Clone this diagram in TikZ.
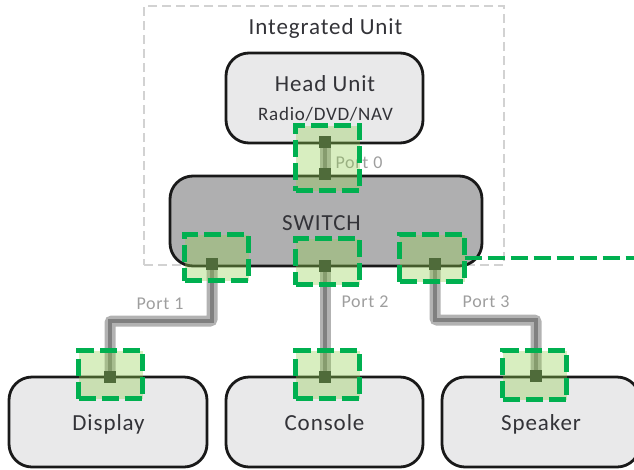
\documentclass[tikz,border=0pt]{standalone}
\usepackage{fontspec}
\setmainfont[LetterSpace=4]{Carlito}
\usetikzlibrary{calc}
\pgfdeclarelayer{boxes}
\pgfdeclarelayer{cables}
\pgfsetlayers{boxes,cables,main}
\definecolor{boxfill}{HTML}{E9E9EA}
\definecolor{switchfill}{HTML}{AFAFB0}
\definecolor{portgreen}{HTML}{00B050}
\definecolor{portfill}{HTML}{92D050}
\definecolor{chip}{HTML}{4F6B3A}
\definecolor{txt}{HTML}{333338}
\definecolor{gborder}{HTML}{D2D2D2}
\tikzset{
  unitbox/.style={draw=black!90,line width=2.8pt,rounded corners=23pt,fill=boxfill,text=txt,inner sep=0pt,outer sep=0pt,anchor=north west},
  group/.style={draw=gborder,line width=2.4pt,dash pattern=on 9pt off 5pt,inner sep=0pt,outer sep=0pt,anchor=north west},
  zone/.style={draw=portgreen,line width=4.8pt,dash pattern=on 17pt off 6pt,fill=portfill,fill opacity=.36,draw opacity=1,inner sep=0pt,outer sep=0pt,anchor=north west},
  chipsq/.style={fill=chip,minimum size=12pt,inner sep=0pt},
  cableout/.style={draw=black!30,line width=11pt,rounded corners=2pt},
  cablein/.style={draw=black!50,line width=3.6pt},
  portlabel/.style={text=black!38,font=\fontsize{18}{20}\selectfont,inner sep=0pt},
  uplink/.style={draw=portgreen,line width=4.6pt,dash pattern=on 17pt off 6pt},
}
\begin{document}
\begin{tikzpicture}[x=1pt,y=-1pt]
\useasboundingbox (0,0) rectangle (634,469);
\begin{pgfonlayer}{boxes}
\node[group,minimum width=360pt,minimum height=259pt] (integrated) at (144,6) {};
\node[unitbox,minimum width=197pt,minimum height=90pt] (head) at (226,53) {};
\node[unitbox,fill=switchfill,minimum width=312pt,minimum height=90pt] (switch) at (170,176) {};
\node[unitbox,minimum width=198pt,minimum height=90pt] (display) at (9,377) {};
\node[unitbox,minimum width=197pt,minimum height=90pt] (console) at (226,377) {};
\node[unitbox,minimum width=198pt,minimum height=90pt] (speaker) at (442,377) {};
\end{pgfonlayer}
% labels
\node[text=txt,font=\fontsize{23}{25}\selectfont,inner sep=0pt] (ltitle) at (325.5,28) {Integrated Unit};
\node[text=txt,font=\fontsize{23}{25}\selectfont,inner sep=0pt] (lhead) at (325,84) {Head Unit};
\node[text=txt,font=\fontsize{19}{21}\selectfont,inner sep=0pt] (lradio) at (325.5,114) {Radio/DVD/NAV};
\node[text=txt,font=\fontsize{23}{25}\selectfont,inner sep=0pt] (lswitch) at (321.5,223) {SWITCH};
\node[text=txt,font=\fontsize{23}{25}\selectfont,inner sep=0pt] (ldisplay) at (108.5,424) {Display};
\node[text=txt,font=\fontsize{23}{25}\selectfont,inner sep=0pt] (lconsole) at (324.5,423) {Console};
\node[text=txt,font=\fontsize{23}{25}\selectfont,inner sep=0pt] (lspeaker) at (541,424) {Speaker};
\node[portlabel] (p0) at (359,163) {Port 0};
\node[portlabel] (p1) at (160,304) {Port 1};
\node[portlabel] (p2) at (365,302) {Port 2};
\node[portlabel] (p3) at (486,302) {Port 3};
% green zones
\node[zone,minimum width=64pt,minimum height=65pt] (z0) at (295.5,125.5) {};
\node[zone,minimum width=64pt,minimum height=46pt] (z1) at (184.5,234.5) {};
\node[zone,minimum width=64pt,minimum height=46pt] (z2) at (295.5,238.5) {};
\node[zone,minimum width=65pt,minimum height=47pt] (z3) at (399.5,234.5) {};
\node[zone,minimum width=64pt,minimum height=48pt] (z4) at (78.5,350.5) {};
\node[zone,minimum width=64pt,minimum height=48pt] (z5) at (295.5,350.5) {};
\node[zone,minimum width=64pt,minimum height=49pt] (z6) at (502.5,350.5) {};
% chips
\node[chipsq] (c0a) at (325,142) {};
\node[chipsq] (c0b) at (325,174) {};
\node[chipsq] (c1) at (212,264) {};
\node[chipsq] (c2) at (325,266) {};
\node[chipsq] (c3) at (435,264) {};
\node[chipsq] (c4) at (110,377) {};
\node[chipsq] (c5) at (325,377) {};
\node[chipsq] (c6) at (536,376) {};
\coordinate (edge) at (634,258);
\begin{pgfonlayer}{cables}
\foreach \s in {cableout,cablein}{
  \draw[\s] (c0a.center) -- (c0b.center);
  \draw[\s] (c1.center) -- ++(0,57) -| (c4.center);
  \draw[\s] (c2.center) -- (c5.center);
  \draw[\s] (c3.center) -- ++(0,56) -| (c6.center);
}
\end{pgfonlayer}
\draw[uplink] (z3.east |- edge) -- (edge);
\end{tikzpicture}
\end{document}
